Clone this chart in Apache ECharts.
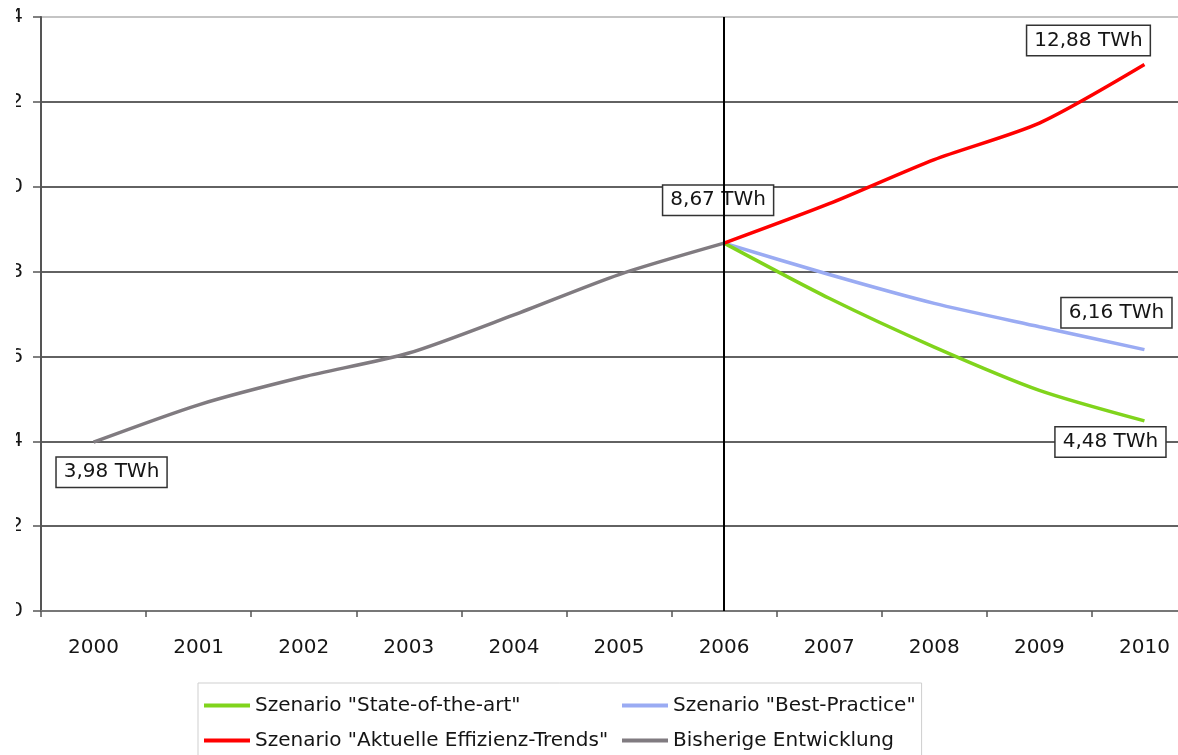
<!DOCTYPE html>
<html>
<head>
<meta charset="utf-8">
<script src="https://cdn.jsdelivr.net/npm/echarts@6/dist/echarts.min.js"></script>
<style>
html,body{margin:0;padding:0;background:#fff;overflow:hidden;width:1178px;height:755px;}
#clip{position:absolute;left:16px;top:0;width:1162px;height:755px;overflow:hidden;}
#c{position:absolute;left:-32px;top:0;width:1213px;height:755px;}
</style>
</head>
<body>
<div id="clip"><div id="c"></div></div>
<script>
const years = ['2000','2001','2002','2003','2004','2005','2006','2007','2008','2009','2010'];
const yTicks = [0, 2, 4, 6, 8, 10, 12, 14];
// historic development 2000-2006
const historic = [3.98, 4.86, 5.52, 6.08, 6.98, 7.93, 8.67];
// scenarios 2006-2010
const trend = [8.67, 9.6, 10.64, 11.5, 12.88];
const bestPractice = [8.67, 7.93, 7.25, 6.7, 6.16];
const stateOfArt = [8.67, 7.37, 6.22, 5.2, 4.48];
const names = ['Szenario "State-of-the-art"', 'Szenario "Best-Practice"', 'Szenario "Aktuelle Effizienz-Trends"', 'Bisherige Entwicklung'];
const labelTexts = {hist0: '3,98 TWh', hist6: '8,67 TWh', trend: '12,88 TWh', best: '6,16 TWh', state: '4,48 TWh'};

const FONT = 'DejaVu Sans';
const TXT = '#151515';
const boxLabel = (text, off) => ({
  show: true, position: 'inside', offset: off, formatter: text,
  fontFamily: FONT, fontSize: 20, color: TXT,
  backgroundColor: '#fff', borderColor: '#333', borderWidth: 1.5,
  padding: [5, 7, 4, 7]
});

function buildScenario(vals, lastLabel, off) {
  const startIdx = years.length - vals.length;
  return years.map((y, i) => {
    if (i < startIdx) return null;
    const v = vals[i - startIdx];
    if (i === years.length - 1) return {value: v, label: boxLabel(lastLabel, off)};
    return v;
  });
}
const histData = historic.map((v, i) => {
  if (i === 0) return {value: v, label: boxLabel(labelTexts.hist0, [18, 30])};
  if (i === historic.length - 1) return {value: v, label: boxLabel(labelTexts.hist6, [-6, -43])};
  return v;
});

const common = {type: 'line', smooth: 0.25, symbol: 'circle', symbolSize: 0, showSymbol: true,
  label: {show: false}, emphasis: {disabled: true}, z: 3};

const chart = echarts.init(document.getElementById('c'));
chart.setOption({
  animation: false,
  backgroundColor: '#fff',
  grid: {left: 57, right: 0, top: 17, bottom: 144},
  legend: {
    left: 214, top: 683, orient: 'horizontal', width: 735,
    padding: [7, 6, 10, 6], itemGap: 4,
    borderColor: '#cfcfcf', borderWidth: 1,
    icon: 'rect', itemWidth: 46, itemHeight: 4,
    textStyle: {fontFamily: FONT, fontSize: 20, color: TXT, lineHeight: 31},
    data: [
      {name: names[0], textStyle: {width: 363}},
      {name: names[1]},
      {name: names[2], textStyle: {width: 363}},
      {name: names[3]}
    ]
  },
  xAxis: {
    type: 'category', data: years, boundaryGap: true,
    axisLine: {lineStyle: {color: '#777', width: 2}},
    axisTick: {show: true, length: 6, lineStyle: {color: '#555', width: 1.5}},
    axisLabel: {margin: 27, fontFamily: FONT, fontSize: 20, color: TXT}
  },
  yAxis: {
    type: 'value', min: 0, max: 14, interval: 2,
    axisLine: {show: true, lineStyle: {color: '#555', width: 2}},
    axisTick: {show: true, inside: false, length: 8, lineStyle: {color: '#555', width: 1.5}},
    axisLabel: {margin: 18, fontFamily: FONT, fontSize: 20, color: TXT,
      formatter: v => yTicks.includes(v) ? String(v) : ''},
    splitLine: {show: true, lineStyle: {color: ['#626262','#626262','#626262','#626262','#626262','#626262','#626262','#c4c4c4'], width: 2}}
  },
  series: [
    Object.assign({}, common, {
      name: names[3], data: histData,
      lineStyle: {color: '#807b80', width: 3.5}, itemStyle: {color: '#807b80'},
      markLine: {silent: true, symbol: 'none', label: {show: false},
        lineStyle: {color: '#000', width: 2, type: 'solid'},
        data: [{xAxis: '2006'}]}
    }),
    Object.assign({}, common, {
      name: names[1], data: buildScenario(bestPractice, labelTexts.best, [-28, -37]),
      lineStyle: {color: '#9aabf3', width: 3.5}, itemStyle: {color: '#9aabf3'}
    }),
    Object.assign({}, common, {
      name: names[0], data: buildScenario(stateOfArt, labelTexts.state, [-34, 21]),
      lineStyle: {color: '#80d41c', width: 3.5}, itemStyle: {color: '#80d41c'}
    }),
    Object.assign({}, common, {
      name: names[2], data: buildScenario(trend, labelTexts.trend, [-56, -24]),
      lineStyle: {color: '#ff0000', width: 3.5}, itemStyle: {color: '#ff0000'}
    })
  ]
});
</script>
</body>
</html>
